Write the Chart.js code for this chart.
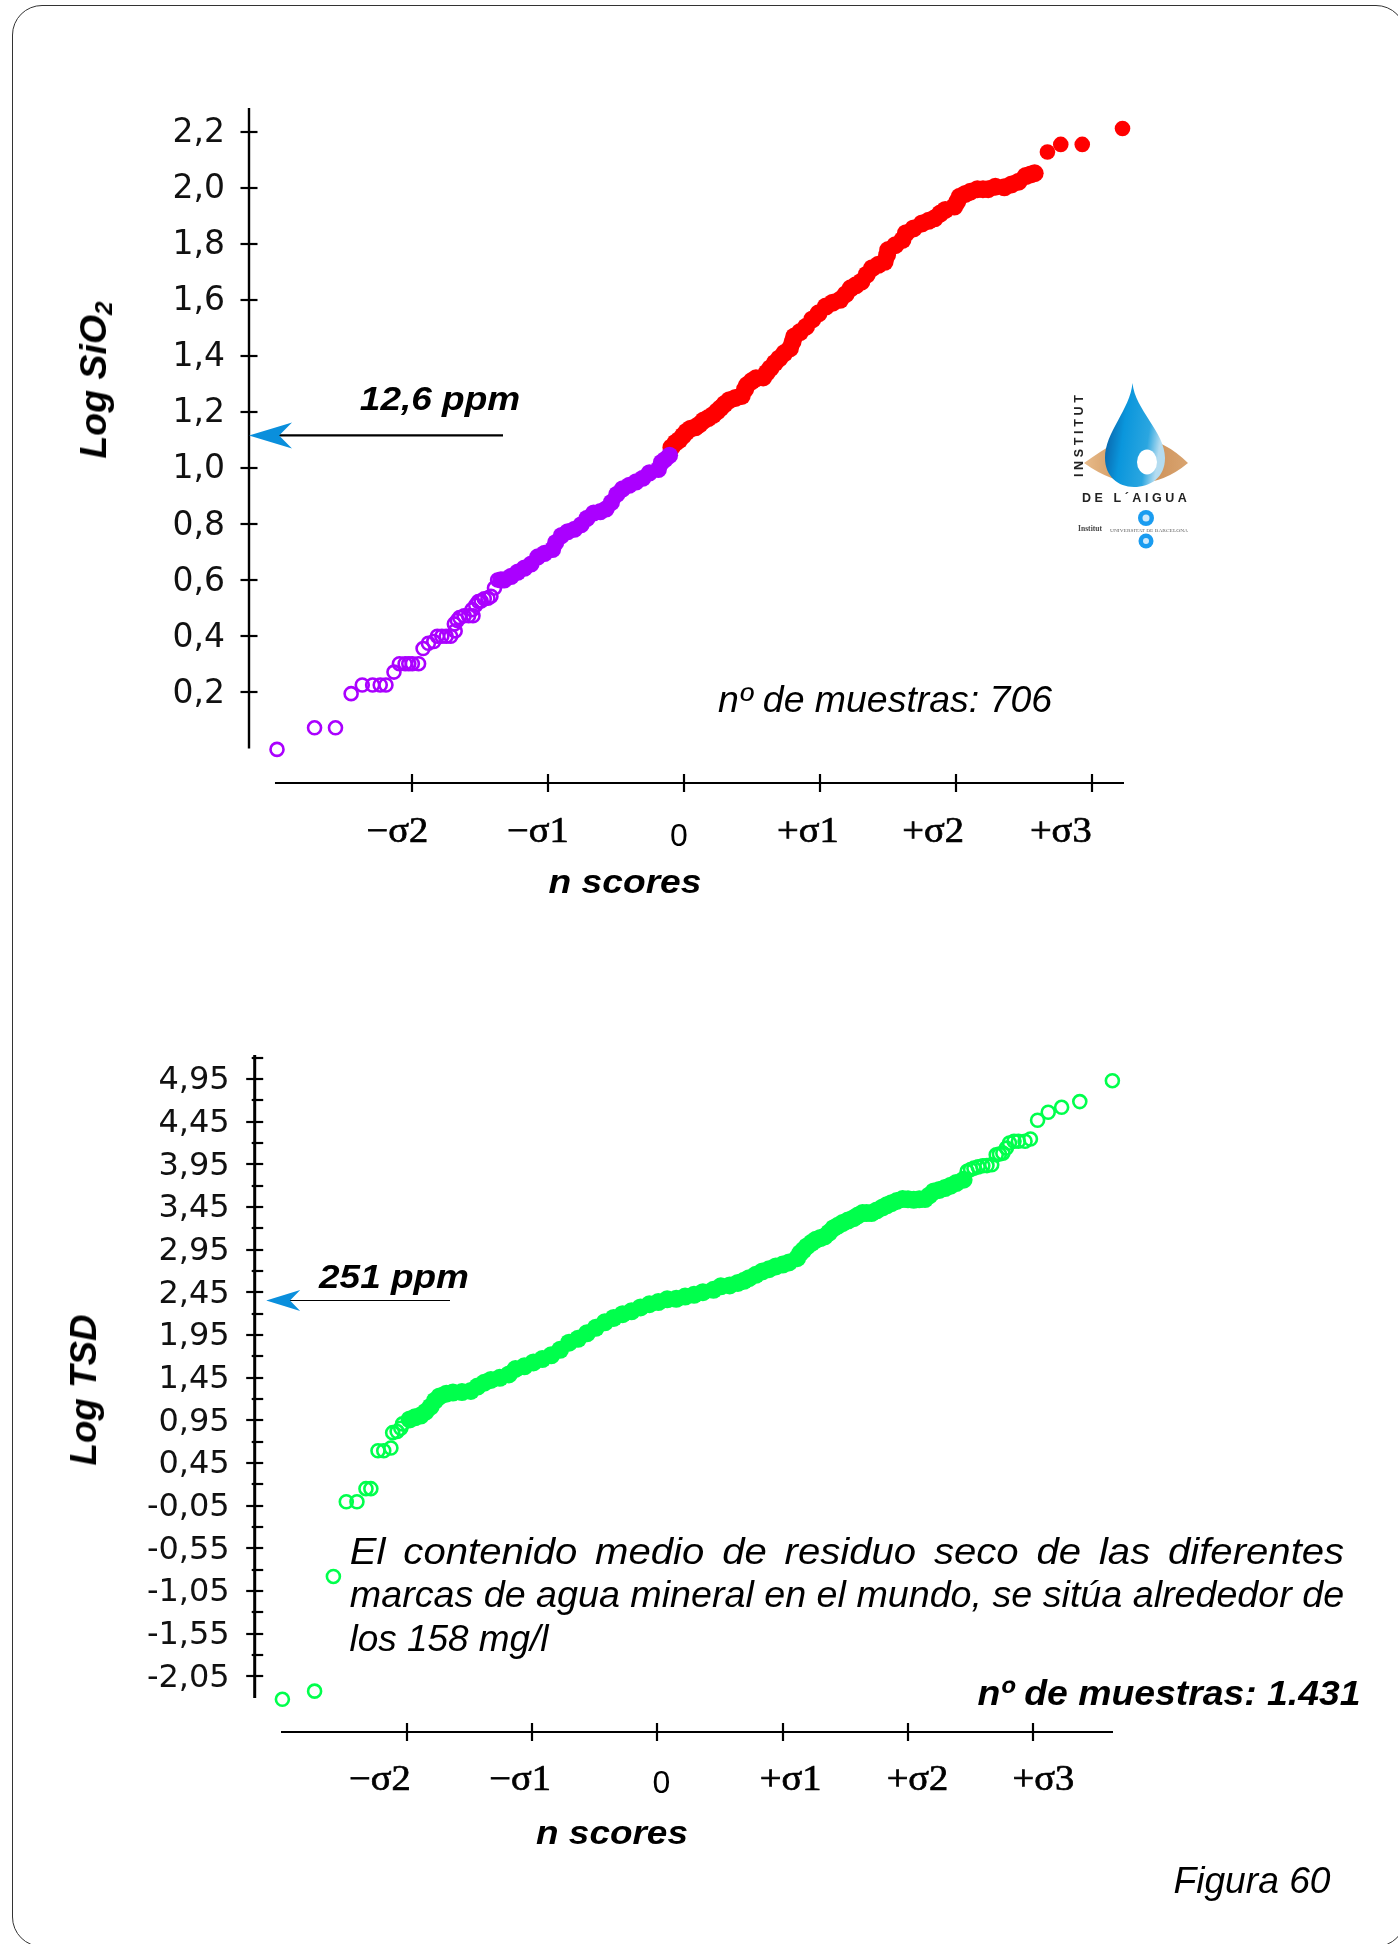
<!DOCTYPE html>
<html lang="es">
<head>
<meta charset="utf-8">
<title>Figura 60</title>
<script src="https://cdn.jsdelivr.net/npm/chart.js@4"></script>
<style>
    html, body { margin: 0; padding: 0; background: #fff; }
    #page { position: relative; width: 1398px; height: 1944px; overflow: hidden; background: #fff; }
    #frame { position: absolute; left: 12px; top: 5px; width: 1392px; height: 1940px; border: 1.6px solid #333; border-radius: 30px; }
    canvas { position: absolute; left: 0; }
    .t { position: absolute; white-space: nowrap; color: #000; line-height: 40px; font-family: "Liberation Sans", Arial, sans-serif; font-size: 36px; font-style: italic; }
    .b { font-weight: bold; }
    .t sub { font-size: 65%; line-height: 0; vertical-align: -0.25em; }
    #logo { position: absolute; left: 1060px; top: 370px; filter: blur(0.5px); }
</style>
</head>
<body>
<div id="page">
    <div id="frame"></div>
    <canvas id="sio2Chart" width="1398" height="900" style="top:0"></canvas>
    <canvas id="tsdChart" width="1398" height="940" style="top:960px"></canvas>

    <div class="t b" data-x="94" data-y="380" data-w="157" data-r="1">Log SiO<sub>2</sub></div>
    <div class="t b" data-x="84" data-y="1390" data-w="151" data-r="1">Log TSD</div>
    <div class="t b" style="font-size:34px" data-x="625" data-y="881" data-w="153">n scores</div>
    <div class="t b" style="font-size:34px" data-x="612" data-y="1832" data-w="152">n scores</div>
    <div class="t b" style="font-size:34px" data-x="440" data-y="398" data-w="160">12,6 ppm</div>
    <div class="t b" style="font-size:34px" data-x="394" data-y="1276" data-w="150">251 ppm</div>
    <div class="t" data-x="885" data-y="700" data-w="334">nº de muestras: 706</div>
    <div class="t" style="word-spacing:6px" data-x="847" data-y="1552" data-w="995">El contenido medio de residuo seco de las diferentes</div>
    <div class="t" data-x="847" data-y="1595" data-w="995">marcas de agua mineral en el mundo, se sitúa alrededor de</div>
    <div class="t" data-x="449" data-y="1639" data-w="199">los 158 mg/l</div>
    <div class="t b" style="font-size:35px" data-x="1169" data-y="1693" data-w="383">nº de muestras: 1.431</div>
    <div class="t" data-x="1252" data-y="1881" data-w="157">Figura 60</div>

    <svg id="logo" width="140" height="190" viewBox="1060 370 140 190">
        <defs>
            <linearGradient id="eyeFill" x1="0" x2="1" y1="0" y2="0">
                <stop offset="0" stop-color="#e8bb8a"/><stop offset="0.5" stop-color="#c88a50"/><stop offset="1" stop-color="#d9a470"/>
            </linearGradient>
            <linearGradient id="dropFill" x1="0" x2="1" y1="0" y2="0.25">
                <stop offset="0" stop-color="#0a4f95"/><stop offset="0.4" stop-color="#0a96dc"/><stop offset="0.8" stop-color="#2ba6e0"/><stop offset="1" stop-color="#b4dcf0"/>
            </linearGradient>
        </defs>
        <path d="M1084 463 Q1130 430 1136 440 Q1160 436 1188 463 Q1140 503 1084 463 Z" fill="url(#eyeFill)"/>
        <path d="M1132.5 383 C1135 410 1165 432 1165 458 C1165 478 1150 487 1134 487 C1118 487 1105 476 1105 458 C1105 432 1130 410 1132.5 383 Z" fill="url(#dropFill)"/>
        <ellipse cx="1147" cy="462" rx="10" ry="12.5" fill="#fff"/>
        <text x="0" y="0" transform="translate(1083,477) rotate(-90)" font-family="Liberation Sans" font-weight="bold" font-size="12.5" letter-spacing="2.2" textLength="84" fill="#222">INSTITUT</text>
        <text x="1082" y="502" font-family="Liberation Sans" font-weight="bold" font-size="12.5" letter-spacing="2.2" textLength="107" fill="#222">DE L´AIGUA</text>
        <text x="1078" y="531" font-family="Liberation Serif" font-weight="bold" font-size="8" textLength="24" lengthAdjust="spacingAndGlyphs" fill="#444">Institut</text>
        <text x="1110" y="532" font-family="Liberation Serif" font-size="5" textLength="78" lengthAdjust="spacingAndGlyphs" fill="#666">UNIVERSITAT DE BARCELONA</text>
        <circle cx="1146" cy="518" r="8" fill="#1a9cf0"/><circle cx="1146" cy="518" r="3.5" fill="#cfe9fb"/>
        <circle cx="1146" cy="541" r="7.5" fill="#1a9cf0"/><circle cx="1146" cy="541" r="3" fill="#cfe9fb"/>
    </svg>
</div>

<script>
// SiO2 normal plot (x in sigma units, y in log ppm)
const sio2OpenX = [-2.991, -2.715, -2.561, -2.446, -2.364, -2.288, -2.232, -2.19, -2.131, -2.091, -2.049, -2.022, -1.996, -1.95, -1.917, -1.878, -1.838, -1.812, -1.779, -1.747, -1.714, -1.681, -1.687, -1.665, -1.648, -1.615, -1.582, -1.55, -1.556, -1.53, -1.51, -1.49, -1.467, -1.44, -1.418, -1.392, -1.369];
const sio2OpenY = [-0.005, 0.072, 0.072, 0.194, 0.225, 0.225, 0.225, 0.225, 0.271, 0.301, 0.301, 0.301, 0.301, 0.301, 0.355, 0.374, 0.38, 0.399, 0.399, 0.399, 0.399, 0.418, 0.443, 0.455, 0.466, 0.472, 0.472, 0.472, 0.494, 0.51, 0.523, 0.525, 0.533, 0.535, 0.542, 0.571, 0.6];
const sio2LowX = [-1.345, -1.32, -1.27, -1.221, -1.172, -1.123, -1.074, -1.024, -0.965, -0.942, -0.9, -0.854, -0.804, -0.755, -0.712, -0.663, -0.614, -0.571, -0.532, -0.492, -0.45, -0.401, -0.351, -0.302, -0.253, -0.187, -0.164, -0.138, -0.105];
const sio2LowY = [0.6, 0.6, 0.613, 0.628, 0.642, 0.657, 0.682, 0.695, 0.709, 0.733, 0.758, 0.772, 0.781, 0.797, 0.82, 0.839, 0.844, 0.854, 0.877, 0.906, 0.925, 0.938, 0.95, 0.963, 0.982, 0.995, 1.02, 1.03, 1.045];
const sio2HighX = [-0.091, -0.06, -0.033, -0.005, 0.019, 0.05, 0.085, 0.115, 0.145, 0.18, 0.216, 0.245, 0.269, 0.3, 0.335, 0.38, 0.426, 0.45, 0.466, 0.5, 0.531, 0.584, 0.61, 0.637, 0.67, 0.702, 0.74, 0.781, 0.8, 0.812, 0.855, 0.899, 0.945, 0.991, 1.044, 1.095, 1.149, 1.19, 1.227, 1.265, 1.306, 1.345, 1.385, 1.43, 1.477, 1.495, 1.503, 1.555, 1.608, 1.634, 1.69, 1.752, 1.8, 1.844, 1.885, 1.923, 1.989, 2.01, 2.028, 2.07, 2.107, 2.159, 2.2, 2.238, 2.291, 2.357, 2.41, 2.462, 2.514, 2.55, 2.58];
const sio2HighY = [1.073, 1.09, 1.1, 1.115, 1.129, 1.14, 1.145, 1.155, 1.169, 1.178, 1.189, 1.202, 1.213, 1.228, 1.242, 1.25, 1.257, 1.28, 1.296, 1.31, 1.32, 1.323, 1.34, 1.356, 1.375, 1.391, 1.41, 1.427, 1.45, 1.469, 1.485, 1.504, 1.53, 1.552, 1.576, 1.59, 1.6, 1.62, 1.641, 1.652, 1.665, 1.69, 1.713, 1.725, 1.736, 1.76, 1.778, 1.795, 1.814, 1.838, 1.855, 1.873, 1.882, 1.891, 1.908, 1.921, 1.933, 1.95, 1.968, 1.978, 1.986, 1.995, 1.995, 1.995, 2.004, 2.002, 2.012, 2.022, 2.042, 2.048, 2.052];
const sio2TopX = [2.674, 2.772, 2.93, 3.226];
const sio2TopY = [2.128, 2.155, 2.155, 2.212];
const sio2Ticks = [0.2, 0.4, 0.6, 0.8, 1.0, 1.2, 1.4, 1.6, 1.8, 2.0, 2.2];
const sio2Mean = 1.116;

// TSD normal plot
const tsdLowOpenX = [-2.993, -2.736, -2.586, -2.483, -2.398, -2.326, -2.287, -2.23, -2.184, -2.127, -2.113, -2.077, -2.048, -2.034];
const tsdLowOpenY = [-2.32, -2.224, -0.88, -0.005, -0.005, 0.149, 0.149, 0.593, 0.593, 0.625, 0.805, 0.818, 0.857, 0.908];
const tsdMidX = [-1.977, -1.935, -1.89, -1.85, -1.81, -1.775, -1.739, -1.685, -1.632, -1.56, -1.489, -1.436, -1.382, -1.329, -1.258, -1.186, -1.133, -1.062, -0.99, -0.919, -0.848, -0.777, -0.705, -0.634, -0.563, -0.492, -0.42, -0.349, -0.278, -0.207, -0.135, -0.064, 0.007, 0.078, 0.15, 0.221, 0.292, 0.363, 0.447, 0.506, 0.577, 0.642, 0.69, 0.731, 0.785, 0.838, 0.89, 0.945, 1.0, 1.05, 1.115, 1.14, 1.165, 1.193, 1.23, 1.264, 1.3, 1.335, 1.37, 1.406, 1.44, 1.477, 1.52, 1.566, 1.6, 1.637, 1.67, 1.708, 1.75, 1.797, 1.83, 1.868, 1.91, 1.957, 2.0, 2.046, 2.09, 2.135, 2.17, 2.206, 2.25, 2.295, 2.34, 2.384, 2.444];
const tsdMidY = [0.96, 0.985, 1.005, 1.05, 1.11, 1.18, 1.23, 1.262, 1.275, 1.281, 1.294, 1.345, 1.39, 1.423, 1.448, 1.487, 1.551, 1.583, 1.628, 1.667, 1.712, 1.776, 1.86, 1.905, 1.969, 2.034, 2.098, 2.149, 2.194, 2.227, 2.272, 2.31, 2.336, 2.368, 2.374, 2.4, 2.42, 2.452, 2.479, 2.52, 2.53, 2.56, 2.585, 2.616, 2.655, 2.695, 2.72, 2.753, 2.775, 2.8, 2.85, 2.909, 2.945, 2.987, 3.03, 3.065, 3.085, 3.104, 3.15, 3.202, 3.23, 3.261, 3.29, 3.319, 3.35, 3.378, 3.378, 3.378, 3.41, 3.444, 3.47, 3.495, 3.52, 3.542, 3.54, 3.534, 3.54, 3.542, 3.585, 3.632, 3.65, 3.671, 3.7, 3.73, 3.769];
const tsdHighOpenX = [2.472, 2.5, 2.526, 2.56, 2.597, 2.63, 2.668, 2.704, 2.73, 2.757, 2.785, 2.81, 2.846, 2.881, 2.934, 2.977, 3.034, 3.119, 3.226, 3.371, 3.631];
const tsdHighOpenY = [3.867, 3.89, 3.905, 3.92, 3.933, 3.935, 3.944, 4.061, 4.07, 4.081, 4.14, 4.2, 4.22, 4.22, 4.22, 4.247, 4.466, 4.56, 4.618, 4.685, 4.93];
const tsdMajorTicks = [-2.05, -1.55, -1.05, -0.55, -0.05, 0.45, 0.95, 1.45, 1.95, 2.45, 2.95, 3.45, 3.95, 4.45, 4.95];
const tsdMinorTicks = [-1.8, -1.3, -0.8, -0.3, 0.2, 0.7, 1.2, 1.7, 2.2, 2.7, 3.2, 3.7, 4.2, 4.7, 5.2];
const tsdMean = 2.354;

// shared sigma axis
const sigmaTicks = [-2, -1, 0, 1, 2, 3];
const sigmaLabels = ['−σ2', '−σ1', '0', '+σ1', '+σ2', '+σ3'];

const RED = '#ff0000';
const PURPLE = '#aa00ff';
const GREEN = '#00ff4c';

function toPoints(xs, ys) {
    return xs.map((x, i) => ({ x: x, y: ys[i] }));
}

function openSet(xs, ys, color) {
    return { data: toPoints(xs, ys), borderColor: color, backgroundColor: 'transparent', pointRadius: 6.5, pointBorderWidth: 2.6, clip: false };
}

function filledSet(xs, ys, color, r) {
    return { data: toPoints(xs, ys), borderColor: color, backgroundColor: color, pointRadius: r, pointBorderWidth: 0, clip: false };
}

// spines, tick marks, sigma labels and the arrow pointing at the mean
function axisMarks(opts) {
    return {
        id: 'axisMarks',
        afterDraw(chart) {
            const ctx = chart.ctx;
            const xs = chart.scales.x;
            const ys = chart.scales.y;
            const left = xs.left;
            const base = ys.bottom;
            ctx.save();
            ctx.strokeStyle = '#000';
            ctx.fillStyle = '#000';

            // y spine
            ctx.lineWidth = opts.ySpineWidth;
            ctx.beginPath();
            ctx.moveTo(left, ys.top);
            ctx.lineTo(left, ys.getPixelForValue(opts.ySpineEnd));
            ctx.stroke();

            // y ticks
            ctx.lineWidth = 2.2;
            ys.ticks.forEach(t => {
                const y = Math.round(ys.getPixelForValue(t.value));
                const major = opts.yMajor.includes(t.value);
                ctx.beginPath();
                ctx.moveTo(left - (major ? 8.5 : 3), y);
                ctx.lineTo(left + 8.5, y);
                ctx.stroke();
            });

            // x spine and ticks
            ctx.beginPath();
            ctx.moveTo(xs.getPixelForValue(opts.xSpineStart), base);
            ctx.lineTo(xs.right, base);
            ctx.stroke();
            xs.ticks.forEach(t => {
                const x = Math.round(xs.getPixelForValue(t.value));
                ctx.beginPath();
                ctx.moveTo(x, base - 9);
                ctx.lineTo(x, base + 9);
                ctx.stroke();
            });

            // sigma labels sit a little off their ticks, as in the figure
            ctx.textAlign = 'center';
            ctx.textBaseline = 'middle';
            ctx.lineWidth = 0.7;
            sigmaTicks.forEach((v, i) => {
                const x = xs.getPixelForValue(v) + opts.labelShift[i];
                ctx.save();
                if (v === 0) {
                    ctx.font = '32px "Liberation Sans"';
                    ctx.translate(x, base + opts.zeroDrop);
                    ctx.fillText(sigmaLabels[i], 0, 0);
                } else {
                    ctx.font = '35px "Liberation Serif"';
                    ctx.translate(x, base + opts.labelDrop);
                    ctx.scale(1.1, 1);
                    ctx.fillText(sigmaLabels[i], 0, 0);
                    ctx.strokeText(sigmaLabels[i], 0, 0);
                }
                ctx.restore();
            });

            // mean arrow
            const ay = ys.getPixelForValue(opts.mean);
            const tip = left + opts.tipGap;
            ctx.lineWidth = opts.arrowLine;
            ctx.beginPath();
            ctx.moveTo(tip + opts.headLen * 0.7, ay);
            ctx.lineTo(opts.arrowEnd, ay);
            ctx.stroke();
            ctx.fillStyle = '#0a8fdc';
            ctx.beginPath();
            ctx.moveTo(tip, ay);
            ctx.lineTo(tip + opts.headLen, ay - opts.headHalf);
            ctx.lineTo(tip + opts.headLen * 0.7, ay);
            ctx.lineTo(tip + opts.headLen, ay + opts.headHalf);
            ctx.closePath();
            ctx.fill();
            ctx.restore();
        }
    };
}

function makeChart(id, datasets, cfg) {
    return new Chart(document.getElementById(id), {
        type: 'scatter',
        data: { datasets: datasets },
        plugins: [axisMarks(cfg.marks)],
        options: {
            responsive: false,
            animation: false,
            events: [],
            layout: { padding: cfg.padding },
            plugins: { legend: { display: false }, tooltip: { enabled: false } },
            scales: {
                x: {
                    type: 'linear',
                    min: cfg.xMin,
                    max: cfg.xMax,
                    grid: { display: false },
                    border: { display: false },
                    ticks: { display: false },
                    afterBuildTicks: axis => { axis.ticks = sigmaTicks.map(v => ({ value: v })); },
                    afterFit: axis => { axis.height = 10; }
                },
                y: {
                    type: 'linear',
                    min: cfg.yMin,
                    max: cfg.yMax,
                    grid: { display: false },
                    border: { display: false },
                    afterBuildTicks: axis => { axis.ticks = cfg.yTicks.map(v => ({ value: v })); },
                    afterFit: axis => { axis.width = 140; },
                    ticks: {
                        autoSkip: false,
                        padding: cfg.tickPad,
                        labelOffset: 2,
                        color: '#111',
                        font: { family: 'DejaVu Sans', size: cfg.tickSize },
                        callback: v => cfg.tickText(v)
                    }
                }
            }
        }
    });
}

makeChart('sio2Chart', [
    filledSet(sio2LowX, sio2LowY, PURPLE, 8.6),
    openSet(sio2OpenX, sio2OpenY, PURPLE),
    filledSet(sio2HighX, sio2HighY, RED, 9),
    filledSet(sio2TopX, sio2TopY, RED, 7.8)
], {
    padding: { left: 109, right: 274, top: 108, bottom: 107 },
    xMin: -3.197, xMax: 3.237, yMin: -0.125, yMax: 2.285,
    yTicks: sio2Ticks,
    tickPad: 16,
    tickSize: 33,
    tickText: v => v.toFixed(1).replace('.', ','),
    marks: {
        yMajor: sio2Ticks, ySpineEnd: -0.002, ySpineWidth: 2.4, xSpineStart: -3.006,
        labelShift: [-14.4, -10, -5, -12, -22.6, -31], labelDrop: 50, zeroDrop: 54,
        mean: sio2Mean, tipGap: 0, arrowEnd: 503, arrowLine: 2.2, headLen: 43, headHalf: 13
    }
});

makeChart('tsdChart', [
    openSet(tsdLowOpenX, tsdLowOpenY, GREEN),
    openSet(tsdHighOpenX, tsdHighOpenY, GREEN),
    filledSet(tsdMidX, tsdMidY, GREEN, 9)
], {
    padding: { left: 114.7, right: 285, top: 95, bottom: 158 },
    xMin: -3.214, xMax: 3.636, yMin: -2.703, yMax: 5.231,
    yTicks: tsdMajorTicks.concat(tsdMinorTicks).sort((a, b) => a - b),
    tickPad: 17,
    tickSize: 32,
    tickText: v => tsdMajorTicks.includes(v) ? v.toFixed(2).replace('.', ',') : '',
    marks: {
        yMajor: tsdMajorTicks, ySpineEnd: -2.304, ySpineWidth: 3, xSpineStart: -3.004,
        labelShift: [-27, -12, 4, 8, 9.5, 10], labelDrop: 49, zeroDrop: 52,
        mean: tsdMean, tipGap: 11.5, arrowEnd: 450, arrowLine: 1.2, headLen: 34, headHalf: 10.5
    }
});

// place the annotation texts by centre and stretch them to the measured widths
document.querySelectorAll('.t').forEach(el => {
    const sx = +el.dataset.w / el.offsetWidth;
    const turn = el.dataset.r ? 'rotate(-90deg) ' : '';
    el.style.left = el.dataset.x + 'px';
    el.style.top = el.dataset.y + 'px';
    el.style.transform = 'translate(-50%, -50%) ' + turn + 'scaleX(' + sx.toFixed(3) + ')';
});
</script>
</body>
</html>
